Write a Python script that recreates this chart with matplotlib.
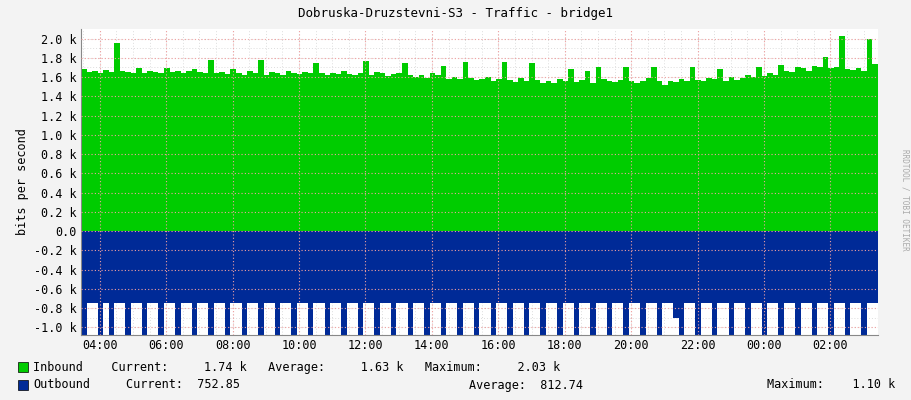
#!/usr/bin/env python3
#RRDtool style traffic graph for bridge1 (inbound up, outbound mirrored down)

import numpy as np
import matplotlib
matplotlib.use("Agg")
import matplotlib.pyplot as plt

###########################
########## DATA ###########
###########################

#Start 03:26, one sample every 10 minutes
start_hour = 3 + 26 / 60
step_hours = 10 / 60

inbound = [
    1680, 1650, 1660, 1640, 1670, 1650, 1950, 1660, 1650, 1640, 1690, 1640,
    1660, 1650, 1640, 1690, 1650, 1660, 1640, 1660, 1680, 1650, 1640, 1780,
    1640, 1650, 1630, 1680, 1640, 1620, 1660, 1640, 1780, 1620, 1650, 1640,
    1620, 1660, 1640, 1630, 1650, 1640, 1750, 1640, 1620, 1640, 1630, 1660,
    1630, 1620, 1640, 1770, 1620, 1650, 1640, 1610, 1630, 1640, 1750, 1620,
    1600, 1620, 1590, 1640, 1620, 1720, 1580, 1600, 1580, 1760, 1590, 1570,
    1580, 1600, 1560, 1580, 1760, 1570, 1550, 1590, 1560, 1750, 1570, 1540,
    1560, 1540, 1580, 1560, 1680, 1550, 1570, 1660, 1540, 1700, 1580, 1560,
    1550, 1570, 1700, 1560, 1540, 1560, 1590, 1700, 1560, 1520, 1560, 1550,
    1580, 1560, 1700, 1570, 1560, 1590, 1580, 1680, 1560, 1600, 1570, 1590,
    1620, 1600, 1700, 1610, 1640, 1620, 1730, 1660, 1650, 1700, 1690, 1660,
    1720, 1700, 1810, 1690, 1700, 2030, 1680, 1670, 1690, 1660, 2000, 1740,
]

outbound = [
    1100, 752, 752, 1100, 752, 1100, 752, 752, 1100, 752, 752, 1100,
    752, 752, 1100, 752, 752, 1100, 752, 752, 1100, 752, 752, 1100,
    752, 752, 1100, 752, 752, 1100, 752, 752, 1100, 752, 752, 1100,
    752, 752, 1100, 752, 752, 1100, 752, 752, 1100, 752, 752, 1100,
    752, 752, 1100, 752, 752, 1100, 752, 752, 1100, 752, 752, 1100,
    752, 752, 1100, 752, 752, 1100, 752, 752, 1100, 752, 752, 1100,
    752, 752, 1100, 752, 752, 1100, 752, 752, 1100, 752, 752, 1100,
    752, 752, 1100, 752, 752, 1100, 752, 752, 1100, 752, 752, 1100,
    752, 752, 1100, 752, 752, 1100, 752, 752, 1100, 752, 752, 900,
    1100, 752, 752, 1100, 752, 752, 1100, 752, 752, 1100, 752, 752,
    1100, 752, 752, 1100, 752, 752, 1100, 752, 752, 1100, 752, 752,
    1100, 752, 752, 1100, 752, 752, 1100, 752, 752, 1100, 752, 752,
]

tick_labels = ["04:00", "06:00", "08:00", "10:00", "12:00", "14:00",
               "16:00", "18:00", "20:00", "22:00", "00:00", "02:00"]
tick_hours = [4, 6, 8, 10, 12, 14, 16, 18, 20, 22, 24, 26]

y_ticks = [-1000, -800, -600, -400, -200, 0, 200, 400, 600, 800,
           1000, 1200, 1400, 1600, 1800, 2000]
y_labels = ["-1.0 k", "-0.8 k", "-0.6 k", "-0.4 k", "-0.2 k", "0.0",
            "0.2 k", "0.4 k", "0.6 k", "0.8 k", "1.0 k", "1.2 k",
            "1.4 k", "1.6 k", "1.8 k", "2.0 k"]

###########################
########### PLOT ##########
###########################

plt.rcParams["font.family"] = "DejaVu Sans Mono"
plt.rcParams["font.size"] = 8.5

hours = start_hour + step_hours * np.arange(len(inbound) + 1)
inb = np.append(inbound, inbound[-1])
outb = -np.append(outbound, outbound[-1])

fig = plt.figure(figsize=(9.11, 4.00), dpi=100, facecolor="#F3F3F3")
ax = fig.add_axes([81 / 911, 65 / 400, 797 / 911, 306 / 400])
ax.set_facecolor("white")

x_end = start_hour + step_hours * len(inbound)
ax.set_xlim(start_hour, x_end)
ax.set_ylim(-1080, 2100)

#Minor grid
for h in np.arange(3.5, x_end, 0.5):
    ax.axvline(h, color="#DDDDDD", linestyle=(0, (1, 2)), linewidth=0.7, zorder=0)
for v in range(-1000, 2100, 100):
    ax.axhline(v, color="#DDDDDD", linestyle=(0, (1, 2)), linewidth=0.7, zorder=0)

ax.fill_between(hours, 0, inb, step="post", color="#00CC00", linewidth=0, zorder=2)
ax.fill_between(hours, 0, outb, step="post", color="#002A97", linewidth=0, zorder=2)

#Major grid on top
for h in tick_hours:
    ax.axvline(h, color="#F0A0A0", linestyle=(0, (1, 2)), linewidth=0.8, zorder=3)
for v in y_ticks:
    ax.axhline(v, color="#F0A0A0", linestyle=(0, (1, 2)), linewidth=0.8, zorder=3)

ax.set_xticks(tick_hours)
ax.set_xticklabels(tick_labels)
ax.set_yticks(y_ticks)
ax.set_yticklabels(y_labels)
ax.tick_params(length=0, pad=3, colors="black")
for side in ["top", "right"]:
    ax.spines[side].set_visible(False)
ax.spines["left"].set_color("#888888")
ax.spines["bottom"].set_color("#888888")

ax.set_ylabel("bits per second", labelpad=4)
fig.text(0.5, 0.965, "Dobruska-Druzstevni-S3 - Traffic - bridge1",
         ha="center", va="center", fontsize=9)
fig.text(0.993, 0.5, "RRDTOOL / TOBI OETIKER", rotation=270,
         ha="center", va="center", fontsize=5.5, color="#AAAAAA")

#Legend rows
fig.patches.append(plt.Rectangle((18 / 911, 28 / 400), 10 / 911, 10 / 400,
                                 transform=fig.transFigure, facecolor="#00CC00",
                                 edgecolor="black", linewidth=0.5))
fig.patches.append(plt.Rectangle((18 / 911, 10 / 400), 10 / 911, 10 / 400,
                                 transform=fig.transFigure, facecolor="#002A97",
                                 edgecolor="black", linewidth=0.5))
row1 = "Inbound    Current:     1.74 k   Average:     1.63 k   Maximum:     2.03 k"
fig.text(33 / 911, 33 / 400, row1, va="center", fontsize=8.5)
fig.text(33 / 911, 15 / 400, "Outbound", va="center", fontsize=8.5)
fig.text(126 / 911, 15 / 400, "Current:  752.85", va="center", fontsize=8.5)
fig.text(278 / 911 + 0.21, 15 / 400, "Average:  812.74", va="center", fontsize=8.5)
fig.text(430 / 911 + 0.37, 15 / 400, "Maximum:    1.10 k", va="center", fontsize=8.5)

fig.savefig("out.png", dpi=100, facecolor=fig.get_facecolor())
